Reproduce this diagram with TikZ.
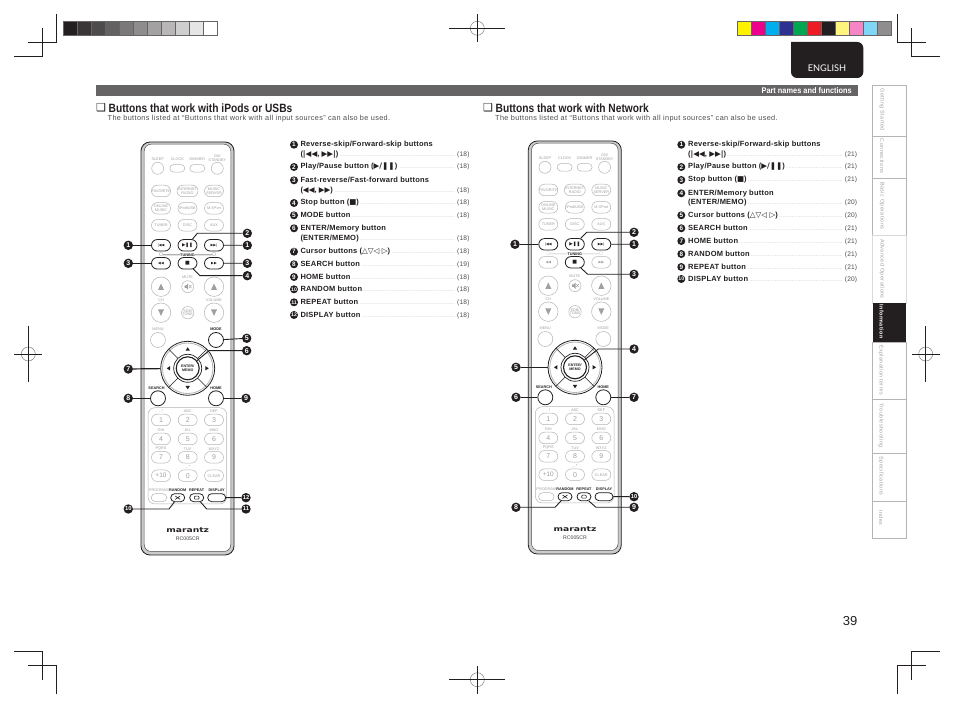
\documentclass[tikz,border=0pt]{standalone}
\usepackage{fontspec}
\usetikzlibrary{shapes.misc}
\setmainfont{Liberation Sans}
\newfontfamily\symf{DejaVu Sans}
\newfontfamily\headf[FakeStretch=0.85]{Liberation Sans}
\newfontfamily\barf[FakeStretch=0.9]{Liberation Sans}
\newfontfamily\itemf[LetterSpace=3]{Liberation Sans}
\newfontfamily\subf[LetterSpace=5]{Liberation Sans}
\newfontfamily\tabf[LetterSpace=8]{Liberation Sans}
\newfontfamily\logof[FakeStretch=1.35]{DejaVu Sans}
\newfontfamily\engf{Lato}
\newcommand\fsz[1]{\fontsize{#1}{#1}\selectfont}
\definecolor{ink}{HTML}{231F20}
\definecolor{barg}{HTML}{666464}
\definecolor{faint}{HTML}{B4B4B4}
\definecolor{faintt}{HTML}{A0A0A0}
\newcommand\lead{\hskip1pt\leaders\hbox to 1.5pt{\hss\textcolor{gray}{\normalfont\fsz{4}.}\hss}\hfill\hskip1pt}
\tikzset{
 btn/.style={draw=faint,line width=.5pt},
 hot/.style={draw=ink,line width=.8pt},
 labbtn/.style={text=faintt,font=\fsz{3.8},inner sep=0pt,align=center},
 labhot/.style={text=ink,font=\bfseries\fsz{3.8},inner sep=0pt,align=center},
 linebtn/.style={draw=faint,line width=.4pt},
 linehot/.style={draw=ink,line width=.5pt},
 oval/.style={rounded rectangle,minimum width=19pt,minimum height=11.5pt,inner sep=0pt,text=faintt,font=\fsz{3.8},align=center},
 round/.style={circle,inner sep=0pt,text=faintt,font=\fsz{3.8},align=center},
 mk/.style={circle,fill=ink,text=white,inner sep=0pt,minimum size=9.4pt,font=\bfseries\fsz{7}},
 mkk/.style={mk,font=\bfseries\fsz{5.8}},
 mks/.style={circle,fill=ink,text=white,inner sep=0pt,minimum size=8pt,font=\bfseries\fsz{6.4}},
 mkks/.style={mks,font=\bfseries\fsz{5.2}},
 co/.style={draw=ink,line width=.9pt},
 cot/.style={draw=ink,line width=1.2pt},
 crop/.style={draw=ink,line width=.7pt},
 regc/.style={draw=gray,line width=.5pt,circle,minimum size=14pt,inner sep=0pt},
 item/.style={anchor=west,inner sep=0pt,text=ink,font=\itemf\bfseries\fsz{7.5}},
 tabt/.style={rotate=-90,text=faintt,inner sep=0pt,font=\tabf\fsz{5.4}},
 strip/.style={draw=barg,line width=.6pt,minimum width=14pt,minimum height=14.3pt,inner sep=0pt},
}
% #1 prefix, #2 #3 shift, #4 style of fast buttons, #5 style of mode button
\newcommand\remote[5]{%
\begin{scope}[shift={(#2,#3)}]
 \draw[draw=ink,line width=.8pt,fill=faint!70,rounded corners=9pt] (141,142) rectangle (234,555);
 \draw[draw=ink!80,line width=.5pt,fill=white,rounded corners=7pt] (144.2,144.2) rectangle (230.8,551.5);
 % top row
 \node[labbtn] (#1tsl) at (157.7,159.5) {SLEEP};
 \node[labbtn] (#1tcl) at (177.3,159.5) {CLOCK};
 \node[labbtn] (#1tdi) at (197.3,159.5) {DIMMER};
 \node[labbtn] (#1ton) at (217.3,158) {ON/\\STANDBY};
 \node[round,btn,minimum size=12pt] (#1sleep) at (157.7,168.3) {};
 \node[oval,btn,minimum width=15pt,minimum height=7.5pt] (#1clock) at (177.3,168.3) {};
 \node[oval,btn,minimum width=15pt,minimum height=7.5pt] (#1dimmer) at (197.3,168.3) {};
 \node[round,btn,minimum size=12pt] (#1stby) at (217.3,168.3) {};
 % sources
 \node[oval,btn] (#1fav) at (161,191) {FAVORITE};
 \node[oval,btn] (#1net) at (187.5,191) {INTERNET\\RADIO};
 \node[oval,btn] (#1srv) at (214,191) {MUSIC\\SERVER};
 \node[oval,btn] (#1onl) at (161,208.3) {ONLINE\\MUSIC};
 \node[oval,btn] (#1ipd) at (187.5,208.3) {iPod/USB};
 \node[oval,btn] (#1xpt) at (214,208.3) {M-XPort};
 \node[oval,btn] (#1tun) at (161,225.3) {TUNER};
 \node[oval,btn] (#1dsc) at (187.5,225.3) {DISC};
 \node[oval,btn] (#1aux) at (214,225.3) {AUX};
 % transport
 \node[oval,hot,text=ink,font=\symf\fsz{3.6}] (#1prev) at (161,245.3) {|◀◀};
 \node[oval,hot,text=ink,font=\symf\fsz{4.5}] (#1play) at (187.5,245.3) {▶❚❚};
 \node[oval,hot,text=ink,font=\symf\fsz{3.6}] (#1next) at (214,245.3) {▶▶|};
 \node[labhot,font=\bfseries\fsz{3.8}] (#1tune) at (187.5,255) {TUNING};
 \node[lab#4,font=\symf\fsz{3.5}] (#1tl) at (161,254.8) {□};
 \node[lab#4,font=\symf\fsz{3.5}] (#1tr) at (214,254.8) {□};
 \draw[line#4] (#1tl) -- (#1tune);
 \draw[line#4] (#1tune) -- (#1tr);
 \node[oval,#4,text=#4col,font=\symf\fsz{3.6}] (#1rew) at (161,263.3) {◀◀};
 \node[oval,hot,text=ink,font=\symf\fsz{5}] (#1stop) at (187.5,263.3) {■};
 \node[oval,#4,text=#4col,font=\symf\fsz{3.6}] (#1ffw) at (214,263.3) {▶▶};
 % ch / vol
 \node[labbtn] (#1tmu) at (187.5,277) {MUTE};
 \node[labbtn] (#1tch) at (161,300) {CH};
 \node[labbtn] (#1tvo) at (214,300) {VOLUME};
 \node[round,btn,minimum size=19.5pt] (#1chu) at (161,286.7) {};
 \node[round,btn,minimum size=12pt] (#1mute) at (187.7,286.7) {};
 \node[round,btn,minimum size=19.5pt] (#1volu) at (214,286.7) {};
 \node[round,btn,minimum size=19.5pt] (#1chd) at (161,312.7) {};
 \node[round,btn,minimum size=12pt] (#1sdb) at (187.7,312.7) {SDB/\\TONE};
 \node[round,btn,minimum size=19.5pt] (#1vold) at (214,312.7) {};
 \fill[faintt] (161,286.7) ++(-3,3.2) -- ++(6,0) -- ++(-3,-6.4) -- cycle;
 \fill[faintt] (214,286.7) ++(-3,3.2) -- ++(6,0) -- ++(-3,-6.4) -- cycle;
 \fill[faintt] (161,312.7) ++(-3,-3.2) -- ++(6,0) -- ++(-3,6.4) -- cycle;
 \fill[faintt] (214,312.7) ++(-3,-3.2) -- ++(6,0) -- ++(-3,6.4) -- cycle;
 \fill[faintt] (184.7,285.5) -- ++(1.5,0) -- ++(2,-2) -- ++(0,6.4) -- ++(-2,-2) -- ++(-1.5,0) -- cycle;
 \draw[faintt,line width=.4pt] (189,285) -- ++(2.4,3) (191.4,285) -- ++(-2.4,3);
 % menu / mode
 \node[labbtn] (#1tme) at (158,329) {MENU};
 \node[lab#5] (#1tmo) at (216,329) {MODE};
 \node[round,btn,minimum size=15pt] (#1menu) at (158,340) {};
 \node[round,#5,minimum size=15pt] (#1mode) at (216,340) {};
 % dpad
 \node[circle,draw=ink,line width=.8pt,fill=white,minimum size=54pt,inner sep=0pt] (#1dpad) at (187.7,368.3) {};
 \node[circle,draw=faint,line width=.8pt,minimum size=50.5pt,inner sep=0pt] (#1dring) at (187.7,368.3) {};
 \draw[ink,line width=.5pt] (187.7,368.3) ++(9.6,9.6) -- ++(9.5,9.5) (187.7,368.3) ++(-9.6,9.6) -- ++(-9.5,9.5) (187.7,368.3) ++(9.6,-9.6) -- ++(9.5,-9.5) (187.7,368.3) ++(-9.6,-9.6) -- ++(-9.5,-9.5);
 \node[circle,draw=ink,line width=.7pt,fill=white,minimum size=28pt,inner sep=0pt] (#1eout) at (187.7,368.3) {};
 \node[circle,draw=ink,line width=1.1pt,fill=white,minimum size=23pt,inner sep=0pt,text=ink,font=\bfseries\fsz{3.6},align=center] (#1enter) at (187.7,368.3) {ENTER/\\MEMO};
 \fill[ink] (187.7,349) ++(-2.2,1.7) -- ++(4.4,0) -- ++(-2.2,-3.4) -- cycle;
 \fill[ink] (187.7,387.6) ++(-2.2,-1.7) -- ++(4.4,0) -- ++(-2.2,3.4) -- cycle;
 \fill[ink] (168.4,368.3) ++(1.7,-2.2) -- ++(0,4.4) -- ++(-3.4,-2.2) -- cycle;
 \fill[ink] (207,368.3) ++(-1.7,-2.2) -- ++(0,4.4) -- ++(3.4,-2.2) -- cycle;
 % search / home
 \node[labhot] (#1tse) at (156.5,388) {SEARCH};
 \node[labhot] (#1tho) at (216,388) {HOME};
 \node[round,hot,minimum size=15pt] (#1search) at (158,398.3) {};
 \node[round,hot,minimum size=15pt] (#1home) at (216,398.3) {};
 % number pad
 \draw[draw=faint,line width=.5pt,rounded corners=7pt] (148,407.7) rectangle (226.7,504);
 \foreach \nx/\ny/\nt/\nl/\nn in {161/420/1/{. /}/a,187.7/420/2/ABC/b,214/420/3/DEF/c,161/439/4/GHI/d,187.7/439/5/JKL/e,214/439/6/MNO/f,161/457.3/7/PQRS/g,187.7/457.3/8/TUV/h,214/457.3/9/WXYZ/i}{
  \node[oval,btn,font=\fsz{7}] (#1n\nn) at (\nx,\ny) {\nt};
  \node[labbtn] (#1l\nn) at (\nx,\ny-8.4) {\nl};
 }
 \node[oval,btn,font=\fsz{6.5}] (#1p10) at (161,475.7) {+10};
 \node[oval,btn,font=\fsz{7}] (#1n0) at (187.7,475.7) {0};
 \node[oval,btn] (#1clr) at (214,475.7) {CLEAR};
 \node[labbtn] (#1l0) at (187.7,467) {\_ •};
 % bottom row
 \node[labbtn] (#1tpr) at (159,490.3) {PROGRAM};
 \node[labhot] (#1tra) at (177.7,490.3) {RANDOM};
 \node[labhot] (#1tre) at (196.7,490.3) {REPEAT};
 \node[labhot] (#1tdp) at (216.7,490.3) {DISPLAY};
 \node[oval,btn,minimum width=15.5pt,minimum height=8pt] (#1prog) at (159,497.7) {};
 \node[oval,hot,minimum width=14pt,minimum height=8pt] (#1rand) at (177.7,497.7) {};
 \node[oval,hot,minimum width=14pt,minimum height=8pt] (#1rept) at (196.7,497.7) {};
 \node[oval,hot,minimum width=18pt,minimum height=8pt] (#1disp) at (216.7,497.7) {};
 \draw[ink,line width=.6pt] (175.2,496) -- ++(5,3.4) (175.2,499.4) -- ++(5,-3.4);
 \draw[ink,line width=.6pt,rounded corners=.8pt] (194.4,496.2) rectangle (199,499.2);
 % logo
 \node[inner sep=0pt,text=ink,font=\logof\bfseries\fsz{6.8}] (#1logo) at (187.7,530.3) {marantz};
 \node[inner sep=0pt,text=ink!85,font=\fsz{5.2}] (#1model) at (187.7,538.5) {RC005CR};
\end{scope}}
\colorlet{hotcol}{ink}
\colorlet{btncol}{faintt}
\begin{document}
\begin{tikzpicture}[x=1pt,y=-1pt]
\useasboundingbox (0,0) rectangle (954,708);
\fill[white] (0,0) rectangle (954,708);
% crop marks
\draw[crop] (56.3,14) -- (56.3,42.7) -- (28,42.7);
\draw[crop] (42.7,28) -- (42.7,56.7) -- (14,56.7);
\draw[crop] (897.3,14) -- (897.3,42.7) -- (926,42.7);
\draw[crop] (911.3,28) -- (911.3,56.7) -- (940,56.7);
\draw[crop] (56.3,694) -- (56.3,665.3) -- (28,665.3);
\draw[crop] (42.7,680) -- (42.7,651.3) -- (14,651.3);
\draw[crop] (897.3,694) -- (897.3,665.3) -- (926,665.3);
\draw[crop] (911.3,680) -- (911.3,651.3) -- (940,651.3);
% registration targets
\node[regc] (regt) at (477.3,28.3) {};
\draw[crop] (449,28.3) -- (505,28.3) (477.3,14) -- (477.3,41.7);
\node[regc] (regb) at (477.3,679.7) {};
\draw[crop] (449,679.7) -- (505,679.7) (477.3,666.3) -- (477.3,694);
\node[regc] (regl) at (28.3,354) {};
\draw[crop] (14,354) -- (42,354) (28.3,326) -- (28.3,381.7);
\node[regc] (regr) at (925.7,354) {};
\draw[crop] (912,354) -- (940,354) (925.7,326) -- (925.7,381.7);
% colour bars
\foreach \c [count=\i from 0] in {231F20,3A3637,4D4B4C,636162,7A7879,8E8C8D,A3A1A2,B8B6B7,CFCECE,E6E5E5,FFFFFF}{
 \definecolor{sw}{HTML}{\c}
 \node[strip,fill=sw] (gs\i) at ({70.3+13.95*\i},28.5) {};
}
\foreach \c [count=\i from 0] in {FFF200,EC008C,00AEEF,2E3192,00A651,ED1C24,231F20,FFF57D,F685C5,7FD6F7,8F8D8E}{
 \definecolor{sw}{HTML}{\c}
 \node[strip,fill=sw] (cs\i) at ({744.3+13.95*\i},28.5) {};
}
% English tab
\fill[ink] (791,42) {[rounded corners=6pt] -- (791,78) -- (863.3,78) -- (863.3,42)} -- cycle;
\node[inner sep=0pt,text=white,font=\engf\fsz{9.2}] (eng) at (827,68.3) {ENGLISH};
% bar
\fill[barg] (96,85) rectangle (858,96);
\node[anchor=east,inner sep=0pt,text=white,font=\barf\bfseries\fsz{8.2}] (pnf) at (852,90.3) {Part names and functions};
% headings
\node[anchor=west,inner sep=0pt,text=ink,font=\symf\fsz{11}] (b1) at (96,108) {❑};
\node[anchor=west,inner sep=0pt,text=ink,font=\headf\bfseries\fsz{12}] (h1) at (108.5,108) {Buttons that work with iPods or USBs};
\node[anchor=west,inner sep=0pt,text=ink,font=\symf\fsz{11}] (b2) at (483,108) {❑};
\node[anchor=west,inner sep=0pt,text=ink,font=\headf\bfseries\fsz{12}] (h2) at (495.5,108) {Buttons that work with Network};
\node[anchor=west,inner sep=0pt,text=ink!80,font=\subf\fsz{7.3}] (s1) at (107.5,118.3) {The buttons listed at “Buttons that work with all input sources” can also be used.};
\node[anchor=west,inner sep=0pt,text=ink!80,font=\subf\fsz{7.3}] (s2) at (495,118.3) {The buttons listed at “Buttons that work with all input sources” can also be used.};
% remotes
\remote{l}{0}{0}{hot}{hot}
\remote{r}{387.3}{-1}{btn}{btn}
% left callouts
\node[mk] (la1) at (128.3,245.3) {1};
\node[mk] (lb1) at (247.3,245.3) {1};
\node[mk] (la2) at (247.3,233.3) {2};
\node[mk] (la3) at (128.3,263.3) {3};
\node[mk] (lb3) at (247.3,263.3) {3};
\node[mk] (la4) at (247.3,275.7) {4};
\node[mk] (la5) at (246.7,338.3) {5};
\node[mk] (la6) at (246.7,350.7) {6};
\node[mk] (la7) at (128.3,369) {7};
\node[mk] (la8) at (128.3,398.3) {8};
\node[mk] (la9) at (246,398.3) {9};
\node[mkk] (la10) at (128.3,509) {10};
\node[mkk] (la11) at (246,509) {11};
\node[mkk] (la12) at (246,497.7) {12};
\coordinate (lk2) at (197.3,233.3);
\coordinate (lk4) at (200,275.7);
\coordinate (lk6) at (209,350.7);
\coordinate (lk10) at (169,509);
\coordinate (lk11) at (206.7,509);
\draw[co] (la1) -- (lprev);
\draw[co] (lb1) -- (lnext);
\draw[co] (la2) -- (lk2) -- (lplay);
\draw[co] (la3) -- (lrew);
\draw[co] (lb3) -- (lffw);
\draw[co] (la4) -- (lk4) -- (lstop);
\draw[co] (la5) -- (lmode);
\draw[co] (la6) -- (lk6) -- (lenter);
\draw[cot] (la7) -- (ldpad);
\draw[cot] (la8) -- (lsearch);
\draw[co] (la9) -- (lhome);
\draw[co] (la10) -- (lk10) -- (lrand);
\draw[co] (la11) -- (lk11) -- (lrept);
\draw[co] (la12) -- (ldisp);
% right callouts
\node[mk] (ra1) at (515,244.3) {1};
\node[mk] (rb1) at (634,244.3) {1};
\node[mk] (ra2) at (634,232.3) {2};
\node[mk] (ra3) at (634,274.3) {3};
\node[mk] (ra4) at (634,349) {4};
\node[mk] (ra5) at (516,367.3) {5};
\node[mk] (ra6) at (516,397.3) {6};
\node[mk] (ra7) at (634,397.3) {7};
\node[mk] (ra8) at (516,507.3) {8};
\node[mk] (ra9) at (634,507.3) {9};
\node[mkk] (ra10) at (634,496.7) {10};
\coordinate (rk2) at (586.7,232.3);
\coordinate (rk3) at (587.7,274.3);
\coordinate (rk4) at (598.3,349);
\coordinate (rk8) at (555,507.3);
\coordinate (rk9) at (596,507.3);
\draw[co] (ra1) -- (rprev);
\draw[co] (rb1) -- (rnext);
\draw[co] (ra2) -- (rk2) -- (rplay);
\draw[co] (ra3) -- (rk3) -- (rstop);
\draw[co] (ra4) -- (rk4) -- (renter);
\draw[co] (ra5) -- (rdpad);
\draw[co] (ra6) -- (rsearch);
\draw[cot] (ra7) -- (rhome);
\draw[co] (ra8) -- (rk8) -- (rrand);
\draw[co] (ra9) -- (rk9) -- (rrept);
\draw[co] (ra10) -- (rdisp);
% lists
\newcommand\lineL[4]{\node[item] (#1) at (300.3,#2) {\makebox[169pt][l]{#3\lead\mdseries\fsz{6.6}\textcolor{ink!80}{(#4)}}};}
\newcommand\lineR[4]{\node[item] (#1) at (688,#2) {\makebox[169pt][l]{#3\lead\mdseries\fsz{6.6}\textcolor{ink!80}{(#4)}}};}
\newcommand\mL[3]{\node[#3] (mL#1) at (294,#2) {#1};}
\newcommand\mR[3]{\node[#3] (mR#1) at (681.3,#2) {#1};}
\mL{1}{144.7}{mks}
\node[item] (lt1) at (300.3,144.7) {Reverse-skip/Forward-skip buttons};
\lineL{lt1b}{154.3}{({\symf |◀◀}, {\symf ▶▶|})}{18}
\mL{2}{167}{mks}
\lineL{lt2}{167}{Play/Pause button ({\symf ▶/❚❚})}{18}
\mL{3}{180.3}{mks}
\node[item] (lt3) at (300.3,180.3) {Fast-reverse/Fast-forward buttons};
\lineL{lt3b}{190.3}{({\symf ◀◀}, {\symf ▶▶})}{18}
\mL{4}{203}{mks}
\lineL{lt4}{203}{Stop button ({\symf ■})}{18}
\mL{5}{215.3}{mks}
\lineL{lt5}{215.3}{MODE button}{18}
\mL{6}{228.3}{mks}
\node[item] (lt6) at (300.3,228.3) {ENTER/Memory button};
\lineL{lt6b}{239}{(ENTER/MEMO)}{18}
\mL{7}{251.7}{mks}
\lineL{lt7}{251.7}{Cursor buttons ({\symf\mdseries △▽◁ ▷})}{18}
\mL{8}{264.3}{mks}
\lineL{lt8}{264.3}{SEARCH button}{19}
\mL{9}{277}{mks}
\lineL{lt9}{277}{HOME button}{18}
\mL{10}{289.3}{mkks}
\lineL{lt10}{289.3}{RANDOM button}{18}
\mL{11}{302.3}{mkks}
\lineL{lt11}{302.3}{REPEAT button}{18}
\mL{12}{315}{mkks}
\lineL{lt12}{315}{DISPLAY button}{18}
\mR{1}{144.7}{mks}
\node[item] (rt1) at (688,144.7) {Reverse-skip/Forward-skip buttons};
\lineR{rt1b}{154.3}{({\symf |◀◀}, {\symf ▶▶|})}{21}
\mR{2}{167}{mks}
\lineR{rt2}{167}{Play/Pause button ({\symf ▶/❚❚})}{21}
\mR{3}{180}{mks}
\lineR{rt3}{180}{Stop button ({\symf ■})}{21}
\mR{4}{193.3}{mks}
\node[item] (rt4) at (688,193.3) {ENTER/Memory button};
\lineR{rt4b}{203}{(ENTER/MEMO)}{20}
\mR{5}{215.3}{mks}
\lineR{rt5}{215.3}{Cursor buttons ({\symf\mdseries △▽◁ ▷})}{20}
\mR{6}{228.3}{mks}
\lineR{rt6}{228.3}{SEARCH button}{21}
\mR{7}{241}{mks}
\lineR{rt7}{241}{HOME button}{21}
\mR{8}{254}{mks}
\lineR{rt8}{254}{RANDOM button}{21}
\mR{9}{267}{mks}
\lineR{rt9}{267}{REPEAT button}{21}
\mR{10}{279}{mkks}
\lineR{rt10}{279}{DISPLAY button}{20}
% page number
\node[inner sep=0pt,text=ink,font=\fsz{13}] (pg) at (850,621) {39};
% side tabs
\draw[draw=faint,line width=.8pt] (872.7,85.3) rectangle (906.3,136);
\draw[draw=faint,line width=.8pt] (872.7,136) rectangle (906.3,178.3);
\draw[draw=faint,line width=.8pt] (872.7,178.3) rectangle (906.3,235);
\draw[draw=faint!50,line width=.8pt] (872.7,235) rectangle (906.3,303.3);
\fill[ink] (872.7,303.3) rectangle (906.3,342.7);
\draw[draw=faint,line width=.8pt] (872.7,342.7) rectangle (906.3,399.3);
\draw[draw=faint,line width=.8pt] (872.7,399.3) rectangle (906.3,453.3);
\draw[draw=faint,line width=.8pt] (872.7,453.3) rectangle (906.3,501.3);
\draw[draw=faint,line width=.8pt] (872.7,501.3) rectangle (906.3,538.3);
\node[tabt] (t1) at (882,109.7) {Getting Started};
\node[tabt] (t2) at (882,156) {Connections};
\node[tabt] (t3) at (882,205.8) {Basic Operations};
\node[tabt] (t4) at (882,269) {Advanced Operations};
\node[tabt,text=white,font=\tabf\bfseries\fsz{5.4}] (t5) at (881.5,321.5) {Information};
\node[tabt] (t6) at (881,370) {Explanation terms};
\node[tabt] (t7) at (881,425.5) {Troubleshooting};
\node[tabt] (t8) at (881,476) {Specifications};
\node[tabt] (t9) at (881,518) {Index};
\end{tikzpicture}
\end{document}
